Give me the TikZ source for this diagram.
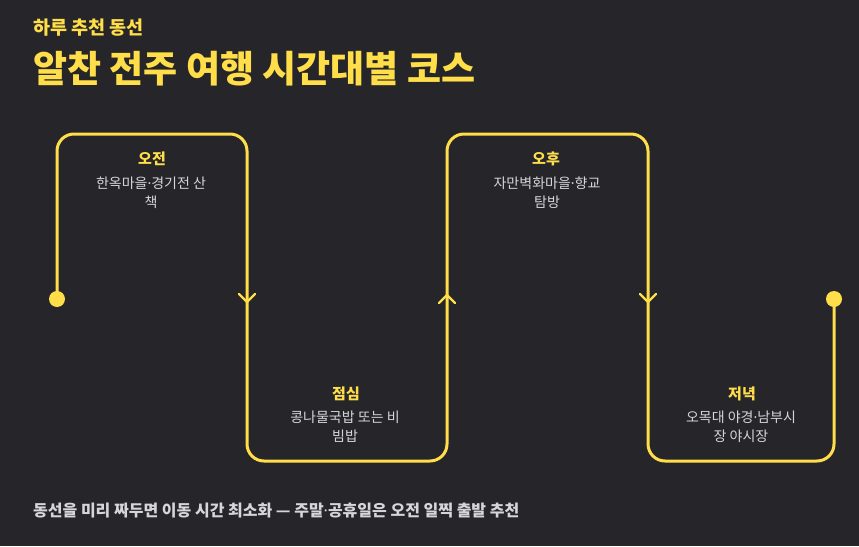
\documentclass[tikz,border=0pt]{standalone}
\usepackage{fontspec}
\setmainfont{Noto Sans CJK KR}
\newfontfamily\latinfont{Noto Sans}
\newcommand\mdot{{\latinfont\char"00B7}}
\definecolor{bg}{HTML}{26262A}
\definecolor{ylw}{HTML}{FFDE4A}
\definecolor{txt}{HTML}{D6D6DA}
\tikzset{
  route/.style={draw=ylw, line width=3pt, rounded corners=17pt},
  chev/.style={draw=ylw, line width=2.2pt, line cap=round, line join=round},
  dot/.style={circle, fill=ylw, inner sep=0pt, minimum size=16pt},
  lbl/.style={text=ylw, font=\bfseries\fontsize{15}{17}\selectfont, inner sep=0pt},
  desc/.style={text=txt, font=\fontsize{14}{19}\selectfont, align=center, inner sep=0pt, anchor=north},
}
\begin{document}
\begin{tikzpicture}[x=1pt, y=-1pt]
\fill[bg] (0,0) rectangle (859,546);
\useasboundingbox (0,0) rectangle (859,546);
% headings
\node[anchor=base west, inner sep=0pt, text=ylw, font=\bfseries\fontsize{18.5}{20}\selectfont] (sub) at (33,34) {하루 추천 동선};
\node[anchor=base west, inner sep=0pt, text=ylw, font=\bfseries\fontsize{37}{40}\selectfont] (title) at (33,82) {알찬 전주 여행 시간대별 코스};
% route
\node[dot] (s) at (57,299) {};
\node[dot] (e) at (834,299) {};
\coordinate (a1) at (57,134);
\coordinate (a2) at (247,134);
\coordinate (a3) at (247,461);
\coordinate (a4) at (447,461);
\coordinate (a5) at (447,134);
\coordinate (a6) at (648,134);
\coordinate (a7) at (648,461);
\coordinate (a8) at (834,461);
\draw[route] (s.center) -- (a1) -- (a2) -- (a3) -- (a4) -- (a5) -- (a6) -- (a7) -- (a8) -- (e.center);
% chevrons
\draw[chev] (239,294) -- (247,302) -- (255,294);
\draw[chev] (439,303) -- (447,295) -- (455,303);
\draw[chev] (640,294) -- (648,302) -- (656,294);
% labels
\node[lbl] (l1) at (152,159) {오전};
\node[desc] (d1) at (151,177) {한옥마을\mdot 경기전 산\\책};
\node[lbl] (l2) at (346,394) {점심};
\node[desc] (d2) at (345,411) {콩나물국밥 또는 비\\빔밥};
\node[lbl] (l3) at (546,159) {오후};
\node[desc] (d3) at (547,177) {자만벽화마을\mdot 향교\\탐방};
\node[lbl] (l4) at (742,394) {저녁};
\node[desc] (d4) at (741,411) {오목대 야경\mdot 남부시\\장 야시장};
% footer
\node[anchor=base west, inner sep=0pt, text=txt, font=\bfseries\fontsize{16}{18}\selectfont] (foot) at (33,516) {동선을 미리 짜두면 이동 시간 최소화 — 주말\mdot 공휴일은 오전 일찍 출발 추천};
\end{tikzpicture}
\end{document}
